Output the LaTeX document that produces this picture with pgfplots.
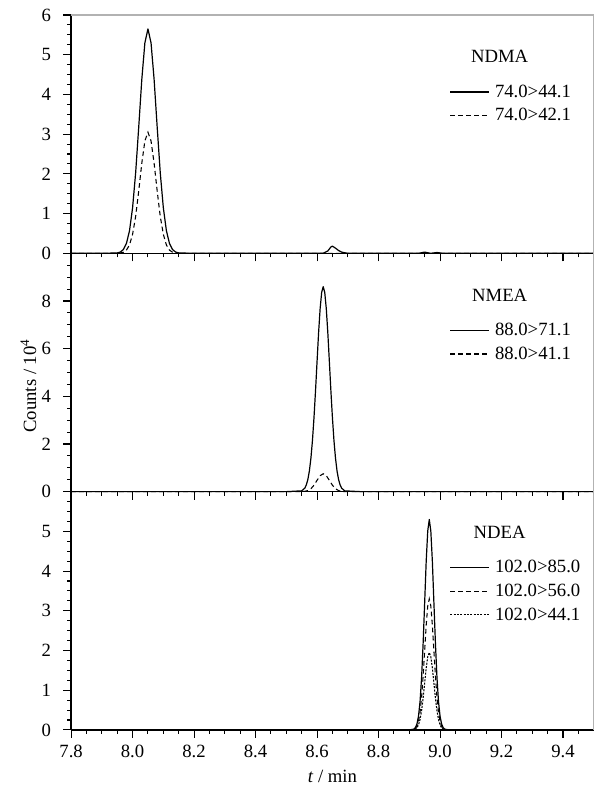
\documentclass[border=0pt]{standalone}
\usepackage{fontspec}
\setmainfont{Liberation Serif}
\usepackage{pgfplots}
\pgfplotsset{compat=1.18}

\newcommand{\fs}{\fontsize{14}{16}\selectfont}

\pgfplotsset{
  chrom/.style={
    scale only axis, width=391.5pt, height=178.5pt,
    xmin=7.8, xmax=9.5, ymin=0,
    clip=false,
    axis x line*=bottom, axis y line*=left,
    axis line style={line width=1.2pt},
    tick align=outside,
    major tick length=6pt, minor tick length=3pt,
    every tick/.style={black, line width=0.8pt},
    xtick={7.8,8,8.2,8.4,8.6,8.8,9,9.2,9.4},
    minor xtick={7.85,7.9,7.95,8.05,8.1,8.15,8.25,8.3,8.35,8.45,8.5,8.55,8.65,8.7,8.75,8.85,8.9,8.95,9.05,9.1,9.15,9.25,9.3,9.35,9.45},
    /pgf/number format/assume math mode=true,
    xticklabel style={/pgf/number format/.cd, fixed, fixed zerofill, precision=1},
    ticklabel style={font=\fs},
    yticklabel shift=5.5pt,
    xticklabel shift=2pt,
    legend image code/.code={\draw[#1] (0pt,0pt) -- (29pt,0pt); \path (31pt,0pt);},
    legend style={draw=none, fill=none, inner sep=0pt, row sep=3pt,
      font=\fs, cells={anchor=west}},
    legend cell align=left,
  },
  sol/.style={black, line width=0.9pt, line join=round},
  das/.style={black, line width=0.8pt, dash pattern=on 3.5pt off 2.5pt},
  dot/.style={black, line width=0.8pt, dash pattern=on 1.5pt off 1pt},
}

\begin{document}
\begin{tikzpicture}

% ---------------- NDMA ----------------
\begin{axis}[chrom, name=p1, ymax=6,
  ytick={0,1,2,3,4,5,6}, minor ytick={0,0.25,...,6}, xticklabels={},
  legend style={at={(rel axis cs:0.724,0.72)}, anchor=north west}]
\addplot[sol] coordinates {
  (7.80,0) (7.90,0) (7.95,0.010) (7.96,0.032) (7.97,0.095) (7.98,0.248)
  (7.99,0.569) (8.00,1.147) (8.01,2.03) (8.02,3.18) (8.03,4.38) (8.04,5.30)
  (8.05,5.65) (8.06,5.30) (8.07,4.38) (8.08,3.18) (8.09,2.03) (8.10,1.147)
  (8.11,0.569) (8.12,0.248) (8.13,0.095) (8.14,0.032) (8.15,0.010) (8.20,0)
  (8.62,0) (8.635,0.06) (8.645,0.16) (8.65,0.18) (8.66,0.13) (8.67,0.07)
  (8.68,0.03) (8.70,0) (8.93,0) (8.95,0.03) (8.97,0) (8.99,0.02) (9.01,0) (9.50,0)
};
\addlegendentry{74.0>44.1}
\addplot[das] coordinates {
  (7.80,0) (7.95,0) (7.96,0.008) (7.97,0.027) (7.98,0.081) (7.99,0.21)
  (8.00,0.48) (8.01,0.93) (8.02,1.57) (8.03,2.27) (8.04,2.83) (8.05,3.05)
  (8.06,2.83) (8.07,2.27) (8.08,1.57) (8.09,0.93) (8.10,0.48) (8.11,0.21)
  (8.12,0.081) (8.13,0.027) (8.14,0.008) (8.15,0) (9.50,0)
};
\addlegendentry{74.0>42.1}
\node at (rel axis cs:0.82,0.826) {\fs NDMA};
\draw[gray!60, line width=1pt] (rel axis cs:0,1) -- (rel axis cs:1,1) -- (rel axis cs:1,0);
\end{axis}

% ---------------- NMEA ----------------
\begin{axis}[chrom, name=p2, at={(p1.south west)}, anchor=north west, ymax=10,
  ytick={0,2,4,6,8}, minor ytick={0,0.5,...,10}, xticklabels={},
  legend style={at={(rel axis cs:0.724,0.72)}, anchor=north west}]
\addplot[sol] coordinates {
  (7.80,0) (8.50,0) (8.55,0.033) (8.56,0.145) (8.565,0.28) (8.57,0.506)
  (8.575,0.866) (8.58,1.40) (8.585,2.14) (8.59,3.10) (8.595,4.23) (8.60,5.46)
  (8.605,6.67) (8.61,7.68) (8.615,8.36) (8.62,8.60) (8.625,8.36) (8.63,7.68)
  (8.635,6.67) (8.64,5.46) (8.645,4.23) (8.65,3.10) (8.655,2.14) (8.66,1.40)
  (8.665,0.866) (8.67,0.506) (8.675,0.28) (8.68,0.145) (8.69,0.033) (8.74,0) (9.50,0)
};
\addlegendentry{88.0>71.1}
\addplot[das] coordinates {
  (7.80,0) (8.55,0) (8.56,0.013) (8.57,0.044) (8.58,0.122) (8.59,0.27)
  (8.60,0.476) (8.61,0.67) (8.62,0.75) (8.63,0.67) (8.64,0.476) (8.65,0.27)
  (8.66,0.122) (8.67,0.044) (8.68,0.013) (8.69,0) (9.50,0)
};
\addlegendentry{88.0>41.1}
\node at (rel axis cs:0.82,0.824) {\fs NMEA};
\draw[gray!60, line width=1pt] (rel axis cs:1,1) -- (rel axis cs:1,0);
\end{axis}

% ---------------- NDEA ----------------
\begin{axis}[chrom, name=p3, at={(p2.south west)}, anchor=north west, ymax=6,
  ytick={0,1,2,3,4,5}, minor ytick={0,0.25,...,6},
  legend style={at={(rel axis cs:0.724,0.725)}, anchor=north west}]
\addplot[sol] coordinates {
  (7.80,0) (8.90,0) (8.915,0.020) (8.92,0.059) (8.925,0.152) (8.93,0.348)
  (8.935,0.716) (8.94,1.32) (8.945,2.18) (8.95,3.21) (8.955,4.25) (8.96,5.01)
  (8.965,5.30) (8.97,5.01) (8.975,4.25) (8.98,3.21) (8.985,2.18) (8.99,1.32)
  (8.995,0.716) (9.00,0.348) (9.005,0.152) (9.01,0.059) (9.015,0.020) (9.03,0) (9.50,0)
};
\addlegendentry{102.0>85.0}
\addplot[das] coordinates {
  (7.80,0) (8.91,0) (8.915,0.013) (8.92,0.037) (8.925,0.094) (8.93,0.217)
  (8.935,0.446) (8.94,0.82) (8.945,1.36) (8.95,2.00) (8.955,2.64) (8.96,3.12)
  (8.965,3.30) (8.97,3.12) (8.975,2.64) (8.98,2.00) (8.985,1.36) (8.99,0.82)
  (8.995,0.446) (9.00,0.217) (9.005,0.094) (9.01,0.037) (9.015,0.013) (9.02,0) (9.50,0)
};
\addlegendentry{102.0>56.0}
\addplot[dot] coordinates {
  (7.80,0) (8.91,0) (8.915,0.0075) (8.92,0.022) (8.925,0.056) (8.93,0.128)
  (8.935,0.263) (8.94,0.486) (8.945,0.80) (8.95,1.18) (8.955,1.56) (8.96,1.84)
  (8.965,1.95) (8.97,1.84) (8.975,1.56) (8.98,1.18) (8.985,0.80) (8.99,0.486)
  (8.995,0.263) (9.00,0.128) (9.005,0.056) (9.01,0.022) (9.015,0.0075) (9.02,0) (9.50,0)
};
\addlegendentry{102.0>44.1}
\node at (rel axis cs:0.82,0.83) {\fs NDEA};
\draw[gray!60, line width=1pt] (rel axis cs:1,1) -- (rel axis cs:1,0);
\end{axis}

\node[rotate=90, font=\fs] at ([xshift=-32pt,yshift=-10pt]p2.west) {Counts / 10\textsuperscript{4}};
\node[font=\fs] at ([yshift=-34.5pt]p3.south) {\textit{t} / min};
\path ([xshift=-53.25pt,yshift=11.25pt]p1.north west) rectangle ([xshift=7.5pt,yshift=-43.5pt]p3.south east);
\end{tikzpicture}
\end{document}
